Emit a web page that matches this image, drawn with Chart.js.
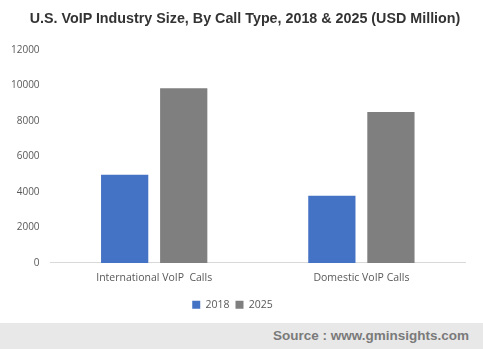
<!DOCTYPE html>
<html>
<head>
<meta charset="utf-8">
<script src="https://cdn.jsdelivr.net/npm/chart.js@4"></script>
<style>
  html, body { margin: 0; padding: 0; background: #fff; width: 483px; height: 349px; overflow: hidden; }
  #wrap { position: absolute; left: 0; top: 0; width: 483px; height: 323px; }
  #title { position: absolute; left: 0; top: 9px; width: 490px; text-align: center;
    font-family: "Liberation Sans", Arial, sans-serif; font-weight: bold; font-size: 14.3px; color: #333333;
    line-height: 18px; white-space: nowrap; }
  #footer { position: absolute; left: 0; top: 323px; width: 483px; height: 26px; background: #e8e8e8;
    font-family: "Liberation Sans", Arial, sans-serif; font-weight: bold; font-size: 13.5px; color: #7a7a7a;
    text-align: right; box-sizing: border-box; padding-right: 14px; line-height: 26px; }
</style>
</head>
<body>
<div id="wrap"><canvas id="c"></canvas></div>
<div id="title">U.S. VoIP Industry Size, By Call Type, 2018 &amp; 2025 (USD Million)</div>
<div id="footer">Source : www.gminsights.com</div>
<script>
const categories = ["International VoIP  Calls", "Domestic VoIP Calls"];
const seriesNames = ["2018", "2025"];
const values2018 = [4970, 3790];
const values2025 = [9850, 8500];
const yTicks = [0, 2000, 4000, 6000, 8000, 10000, 12000];

new Chart(document.getElementById("c"), {
  type: "bar",
  data: {
    labels: categories,
    datasets: [
      { label: seriesNames[0], data: values2018, backgroundColor: "#4472c4" },
      { label: seriesNames[1], data: values2025, backgroundColor: "#7f7f7f" }
    ]
  },
  options: {
    responsive: true,
    maintainAspectRatio: false,
    animation: false,
    layout: { padding: { left: 0, right: 18, top: 50, bottom: 3 } },
    datasets: { bar: { categoryPercentage: 0.57, barPercentage: 0.8 } },
    plugins: {
      title: { display: false },
      legend: {
        position: "bottom",
        labels: {
          boxWidth: 8, boxHeight: 8, padding: 6,
          color: "#595959",
          font: { family: "Open Sans", size: 10.5 }
        }
      },
      tooltip: { enabled: false }
    },
    scales: {
      x: {
        grid: { display: false, drawTicks: false },
        border: { display: true, color: "#d9d9d9", width: 1 },
        ticks: { color: "#595959", font: { family: "Open Sans", size: 10.5 }, padding: 9 }
      },
      y: {
        min: 0, max: 12000,
        afterBuildTicks: (axis) => { axis.ticks = yTicks.map(v => ({ value: v })); },
        grid: { display: false, drawTicks: false },
        border: { display: false },
        ticks: { color: "#595959", font: { family: "Open Sans", size: 10 }, padding: 11,
          callback: (v) => String(v) }
      }
    }
  }
});
</script>
</body>
</html>
